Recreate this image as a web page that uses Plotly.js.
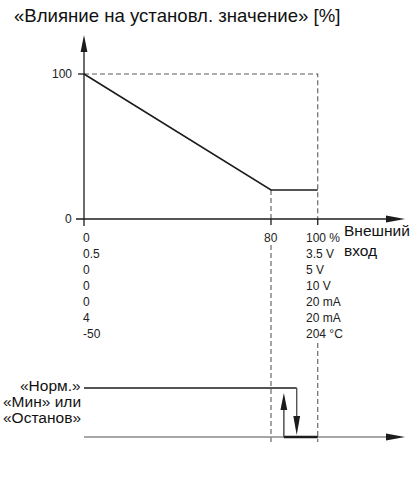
<!DOCTYPE html>
<html>
<head>
<meta charset="utf-8">
<script src="https://cdn.plot.ly/plotly-3.0.1.min.js"></script>
<style>html,body{margin:0;padding:0;background:#fff;}#chart{width:415px;height:492px;}</style>
</head>
<body>
<div id="chart"></div>
<script>
// ---- data ----
const inputPct = [0, 80, 100];          // external input, %
const influence = [100, 20, 20];        // influence on set value, %
const yTicks = [0, 100];
const colMin = ['0', '0.5', '0', '0', '0', '4', '-50'];
const colMid = ['80'];
const colMax = ['100 %', '3.5 V', '5 V', '10 V', '20 mA', '20 mA', '204 \u00B0C'];
const switchUp = 85.5;     // input % where state returns to «Норм.»
const switchDown = 91;     // input % where state drops to «Мин»/«Останов»
const stateHigh = 1, stateLow = 0;
const stateLabels = ['«Норм.»', '«Мин» или', '«Останов»'];
const title = '«Влияние на установл. значение» [%]';
const xLabel = 'Внешний<br>вход';

// ---- geometry (layout only) ----
const W = 415, H = 492;
const X0 = 84, XS = 2.3375;     // px of x=0, px per %
const Y0 = 219, YS = 1.45;      // px of y=0 (upper), px per %
const S0 = 437, SS = 49;        // px of state 0 (lower), px per state
const xr = [-X0 / XS, (W - X0) / XS];
const yr = [-(H - Y0) / YS, Y0 / YS];
const y2r = [-(H - S0) / SS, (S0) / SS];
const px2x = p => (p - X0) / XS;
const py2y = p => (Y0 - p) / YS;
const s2y = v => (Y0 - (S0 - v * SS)) / YS;
const xTip = px2x(405);
const yTip = (Y0 - 35) / YS;

const dark = '#1c1c1c', grey = '#8a8a8a', dashC = '#5a5a5a';
const F = 'Liberation Sans, Arial, sans-serif';
const skip = {hoverinfo: 'skip', mode: 'lines'};
const ln = (x, y, line, extra) => Object.assign({x: x, y: y, line: line}, skip, extra || {});
const dashLine = {color: dashC, width: 1.1, dash: '5px,3px'};

const traces = [];
// dashed guides (split around tick labels)
const guideBottom = s2y(-0.1);
traces.push(ln([inputPct[0], inputPct[2], inputPct[2]], [influence[0], influence[0], 0], dashLine));
traces.push(ln([inputPct[1], inputPct[1]], [influence[1], 0], dashLine));
traces.push(ln([inputPct[1], inputPct[1]], [py2y(Y0 + 26), guideBottom], dashLine));
traces.push(ln([inputPct[2], inputPct[2]], [py2y(Y0 + 124), guideBottom], dashLine));
// main curve
traces.push(ln(inputPct, influence, {color: dark, width: 1.6}));
// axes
traces.push(ln([px2x(76), xTip - 12 / XS], [0, 0], {color: dark, width: 1.3}));
traces.push(ln([0, 0], [-7 / YS, yTip - 12 / YS], {color: dark, width: 1.3}));
traces.push(ln([px2x(78), 0], [yTicks[1], yTicks[1]], {color: dark, width: 1.3}));
inputPct.slice(1).forEach(v => traces.push(ln([v, v], [0, -6 / YS], {color: dark, width: 1.3})));
// lower diagram
traces.push(ln([0, xTip - 12 / XS], [stateLow, stateLow], {color: grey, width: 1.6}, {yaxis: 'y2'}));
traces.push(ln([switchUp, inputPct[2]], [stateLow, stateLow], {color: dark, width: 2.4}, {yaxis: 'y2'}));
traces.push(ln([0, switchDown], [stateHigh, stateHigh], {color: dark, width: 1.6}, {yaxis: 'y2'}));
traces.push(ln([switchDown, switchDown], [stateHigh, stateLow + 10 / SS], {color: '#555', width: 1.4}, {yaxis: 'y2'}));
traces.push(ln([switchUp, switchUp], [stateLow, stateHigh - 10 / SS], {color: '#444', width: 1.4}, {yaxis: 'y2'}));

// arrowheads as filled paths (data units)
function head(xt, yt, dir, len, half, yscale) {
  if (dir === 'r') {
    const b = xt - len / XS, h = half / yscale;
    return `M${b},${yt - h} L${xt},${yt} L${b},${yt + h} Z`;
  }
  const h = half / XS;
  const b = dir === 'u' ? yt - len / yscale : yt + len / yscale;
  return `M${xt - h},${b} L${xt},${yt} L${xt + h},${b} Z`;
}
const shapes = [
  {type: 'path', xref: 'x', yref: 'y', path: head(xTip, 0, 'r', 19, 3.6, YS), fillcolor: dark, line: {width: 0}},
  {type: 'path', xref: 'x', yref: 'y', path: head(0, yTip, 'u', 17, 3.4, YS), fillcolor: dark, line: {width: 0}},
  {type: 'path', xref: 'x', yref: 'y2', path: head(xTip, stateLow, 'r', 19, 3.6, SS), fillcolor: dark, line: {width: 0}},
  {type: 'path', xref: 'x', yref: 'y2', path: head(switchUp, stateHigh - 5 / SS, 'u', 17, 3.4, SS), fillcolor: dark, line: {width: 0}},
  {type: 'path', xref: 'x', yref: 'y2', path: head(switchDown, stateLow + 2 / SS, 'd', 19, 3.4, SS), fillcolor: dark, line: {width: 0}}
];

const ann = [];
const tf = {family: F, size: 12, color: '#222'};
const na = o => Object.assign({showarrow: false}, o);
ann.push(na({text: title, xref: 'paper', yref: 'paper', x: 12 / W, y: 1 - 15 / H, xanchor: 'left', yanchor: 'middle', font: {family: F, size: 18.6, color: '#111'}}));
yTicks.forEach(v => ann.push(na({text: String(v), xref: 'x', yref: 'y', x: 0, y: v, xanchor: 'right', yanchor: 'middle', xshift: -10, font: tf})));
colMin.forEach((t, i) => ann.push(na({text: t, xref: 'x', yref: 'y', x: inputPct[0], y: 0, xanchor: 'left', yanchor: 'middle', xshift: -3, yshift: -(19 + 16 * i), font: tf})));
colMid.forEach((t, i) => ann.push(na({text: t, xref: 'x', yref: 'y', x: inputPct[1], y: 0, xanchor: 'center', yanchor: 'middle', yshift: -(19 + 16 * i), font: tf})));
colMax.forEach((t, i) => ann.push(na({text: t, xref: 'x', yref: 'y', x: inputPct[2], y: 0, xanchor: 'left', yanchor: 'middle', xshift: -14, yshift: -(19 + 16 * i), font: tf})));
ann.push(na({text: xLabel, xref: 'paper', yref: 'paper', x: 342 / W, y: 1 - 241 / H, xanchor: 'left', yanchor: 'middle', align: 'left', font: {family: F, size: 15.5, color: '#111'}}));
stateLabels.forEach((t, i) => ann.push(na({text: t, xref: 'x', yref: 'y2', x: 0, y: stateHigh, xanchor: 'right', yanchor: 'middle', xshift: -1, yshift: 3 - 16 * i, font: {family: F, size: 15.5, color: '#111'}})));

const ax = {visible: false, fixedrange: true, showgrid: false, zeroline: false};
const layout = {
  width: W, height: H, margin: {l: 0, r: 0, t: 0, b: 0},
  paper_bgcolor: '#fff', plot_bgcolor: '#fff', showlegend: false,
  xaxis: Object.assign({range: xr}, ax),
  yaxis: Object.assign({range: yr}, ax),
  yaxis2: Object.assign({range: y2r, overlaying: 'y'}, ax),
  shapes: shapes, annotations: ann
};
Plotly.newPlot('chart', traces, layout, {staticPlot: true, displayModeBar: false});
</script>
</body>
</html>
